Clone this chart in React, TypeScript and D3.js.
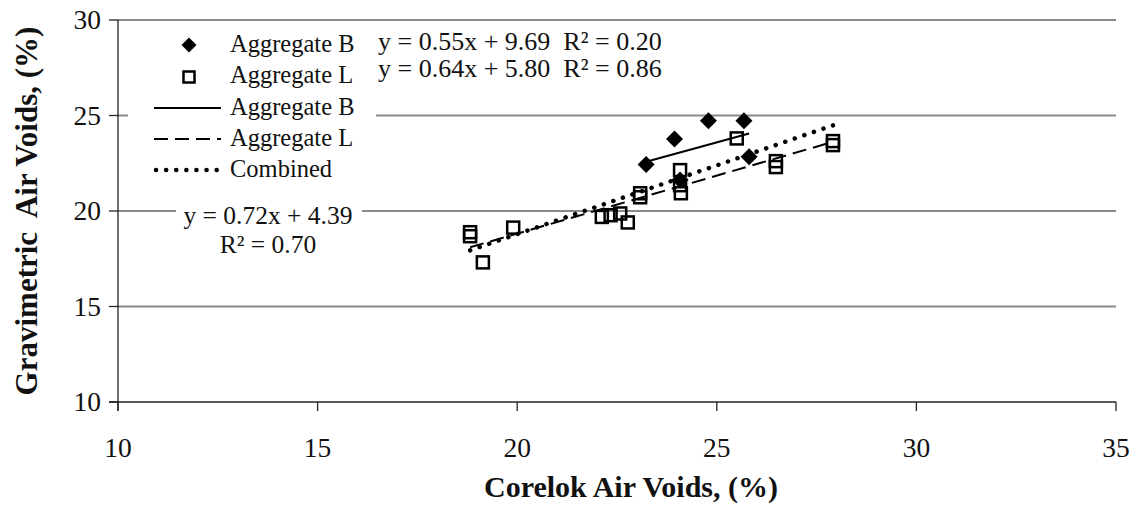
import React from "react";
import * as d3 from "d3";

// ---- data ----
const aggBX = [23.23, 23.94, 24.79, 25.68, 25.81, 24.08];
const aggBY = [22.44, 23.77, 24.73, 24.73, 22.84, 21.62];
const aggLX = [18.82, 18.82, 19.14, 19.9, 22.12, 22.34, 22.58, 22.77, 23.08, 23.08, 24.08, 24.08, 24.1, 25.5, 26.48, 26.48, 27.91, 27.91];
const aggLY = [18.89, 18.68, 17.31, 19.13, 19.69, 19.78, 19.87, 19.4, 20.93, 20.72, 22.14, 21.35, 20.93, 23.8, 22.61, 22.3, 23.66, 23.45];
const combinedSlope = 0.72;
const combinedIntercept = 4.39;
const xTicks = [10, 15, 20, 25, 30, 35];
const yTicks = [10, 15, 20, 25, 30];
const gridValues = [15, 20, 25, 30];
const legendLabels = ["Aggregate B", "Aggregate L", "Aggregate B", "Aggregate L", "Combined"];
const eqLabels = ["y = 0.55x + 9.69  R\u00B2 = 0.20", "y = 0.64x + 5.80  R\u00B2 = 0.86"];
const combinedLabels = ["y = 0.72x + 4.39", "R\u00B2 = 0.70"];
const xTitle = "Corelok Air Voids, (%)";
const yTitle = "Gravimetric  Air Voids, (%)";

function lsq(xs: number[], ys: number[]) {
  const mx = d3.mean(xs) as number;
  const my = d3.mean(ys) as number;
  let sxy = 0, sxx = 0;
  xs.forEach((x, i) => { sxy += (x - mx) * (ys[i] - my); sxx += (x - mx) * (x - mx); });
  const slope = sxy / sxx;
  return { slope, intercept: my - slope * mx };
}

const FONT = "'Liberation Serif', 'DejaVu Serif', serif";

export default function App() {
  const W = 1138, H = 506;
  const x = d3.scaleLinear().domain([10, 35]).range([118, 1116]);
  const y = d3.scaleLinear().domain([10, 30]).range([402, 20]);

  const fitB = lsq(aggBX, aggBY);
  const fitL = lsq(aggLX, aggLY);
  const allX = aggBX.concat(aggLX);
  const line = d3.line<number[]>().x(d => x(d[0])).y(d => y(d[1]));
  const seg = (f: { slope: number; intercept: number }, xs: number[]) => {
    const [a, b] = d3.extent(xs) as [number, number];
    return line([[a, f.slope * a + f.intercept], [b, f.slope * b + f.intercept]]) as string;
  };

  const diamond = (r: number) => `M0,${-r}L${r},0L0,${r}L${-r},0Z`;
  const sq = 12;

  const dotted = { strokeDasharray: "0.1 10", strokeLinecap: "round" as const, strokeWidth: 4.5 };
  const dashed = { strokeDasharray: "14 7", strokeWidth: 2 };

  const legendMarkY = [45, 77, 108, 139, 170];
  const legendTextY = [52, 83, 115, 146, 177];
  const lgX0 = 154, lgX1 = 221, lgMark = 189, lgText = 230;

  return (
    <svg width={W} height={H} style={{ position: "absolute", left: 0, top: 0, background: "#fff" }}>
      {/* gridlines */}
      {gridValues.map(v => (
        <line key={"g" + v} x1={x(10)} x2={x(35)} y1={y(v)} y2={y(v)} stroke="#8a8a8a" strokeWidth={2} />
      ))}
      {/* axes */}
      <line x1={x(10)} x2={x(10)} y1={y(30)} y2={y(10) + 9} stroke="#222" strokeWidth={1.3} />
      <line x1={x(10) - 9} x2={x(35)} y1={y(10)} y2={y(10)} stroke="#222" strokeWidth={1.3} />
      {yTicks.map(v => (
        <line key={"yt" + v} x1={x(10) - 9} x2={x(10)} y1={y(v)} y2={y(v)} stroke="#222" strokeWidth={1.3} />
      ))}
      {xTicks.map(v => (
        <line key={"xt" + v} x1={x(v)} x2={x(v)} y1={y(10)} y2={y(10) + 9} stroke="#222" strokeWidth={1.3} />
      ))}
      {yTicks.map(v => (
        <text key={"yl" + v} x={x(10) - 17} y={y(v) + 9} textAnchor="end" fontFamily={FONT} fontSize={27.5} fill="#111">{v}</text>
      ))}
      {xTicks.map(v => (
        <text key={"xl" + v} x={x(v)} y={457} textAnchor="middle" fontFamily={FONT} fontSize={27.5} fill="#111">{v}</text>
      ))}
      <text x={(x(10) + x(35)) / 2 + 14} y={497} textAnchor="middle" fontFamily={FONT} fontSize={30} fontWeight="bold" fill="#111">{xTitle}</text>
      <text transform={`translate(37,${(y(10) + y(30)) / 2}) rotate(-90)`} textAnchor="middle" fontFamily={FONT} fontSize={31} fontWeight="bold" fill="#111" style={{ whiteSpace: "pre" }}>{yTitle}</text>

      {/* markers */}
      {aggBX.map((v, i) => (
        <path key={"b" + i} d={diamond(8.5)} transform={`translate(${x(v)},${y(aggBY[i])})`} fill="#000" />
      ))}
      {aggLX.map((v, i) => (
        <rect key={"l" + i} x={x(v) - sq / 2} y={y(aggLY[i]) - sq / 2} width={sq} height={sq} fill="none" stroke="#000" strokeWidth={2.5} />
      ))}

      {/* trend lines */}
      <path d={seg(fitB, aggBX)} stroke="#000" strokeWidth={2} fill="none" />
      <path d={seg(fitL, aggLX)} stroke="#000" fill="none" {...dashed} />
      <path d={seg({ slope: combinedSlope, intercept: combinedIntercept }, allX)} stroke="#000" fill="none" {...dotted} />

      {/* legend */}
      <rect x={128} y={28} width={248} height={158} fill="#fff" />
      <path d={diamond(7.5)} transform={`translate(${lgMark},${legendMarkY[0]})`} fill="#000" />
      <rect x={lgMark - 5.5} y={legendMarkY[1] - 5.5} width={11} height={11} fill="none" stroke="#000" strokeWidth={2.5} />
      <line x1={lgX0} x2={lgX1} y1={legendMarkY[2]} y2={legendMarkY[2]} stroke="#000" strokeWidth={2} />
      <line x1={lgX0} x2={lgX1} y1={legendMarkY[3]} y2={legendMarkY[3]} stroke="#000" {...dashed} />
      <line x1={lgX0 + 2} x2={lgX1} y1={legendMarkY[4]} y2={legendMarkY[4]} stroke="#000" {...dotted} />
      {legendLabels.map((t, i) => (
        <text key={"lg" + i} x={lgText} y={legendTextY[i]} fontFamily={FONT} fontSize={24.5} fill="#111">{t}</text>
      ))}

      {/* equation labels */}
      {eqLabels.map((t, i) => (
        <text key={"eq" + i} x={378} y={50 + i * 27} fontFamily={FONT} fontSize={26} fill="#111" style={{ whiteSpace: "pre" }}>{t}</text>
      ))}
      <rect x={176} y={196} width={186} height={64} fill="#fff" />
      {combinedLabels.map((t, i) => (
        <text key={"cl" + i} x={268} y={224 + i * 29} textAnchor="middle" fontFamily={FONT} fontSize={25.5} fill="#111">{t}</text>
      ))}
    </svg>
  );
}
